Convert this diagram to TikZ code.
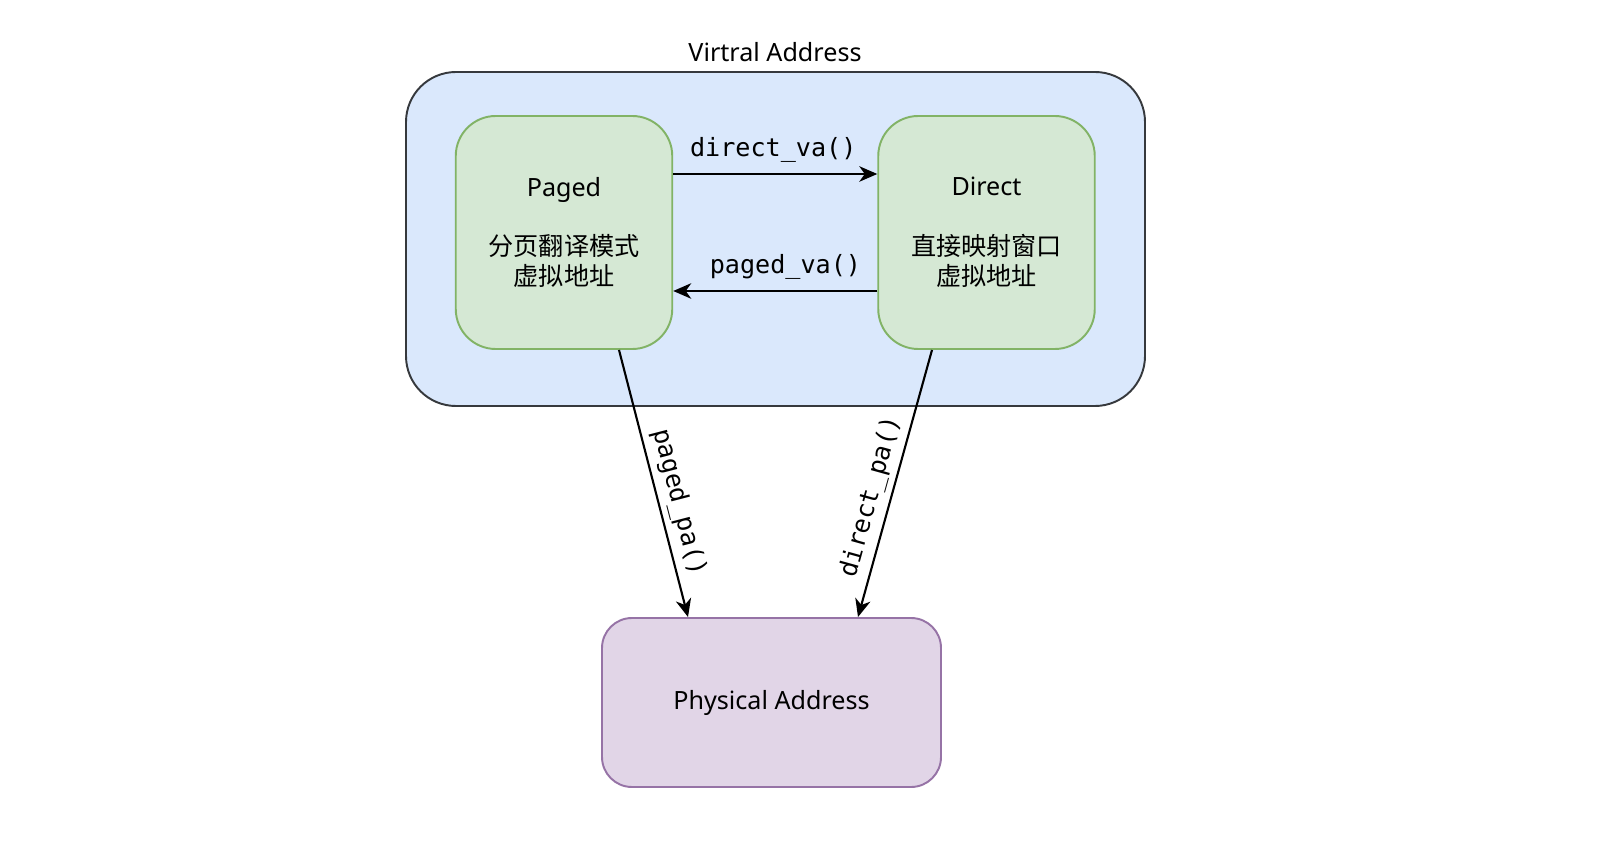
\documentclass[tikz,border=0pt]{standalone}
\usepackage{fontspec}
\setmainfont{Noto Sans}
\setmonofont{DejaVu Sans Mono}
\newfontfamily\cjk{Noto Sans CJK SC}
\usetikzlibrary{arrows.meta}
\definecolor{vafill}{HTML}{DAE8FC}
\definecolor{vaedge}{HTML}{36393D}
\definecolor{boxfill}{HTML}{D5E8D4}
\definecolor{boxedge}{HTML}{82B366}
\definecolor{pafill}{HTML}{E1D5E7}
\definecolor{paedge}{HTML}{9673A6}

\begin{document}
\begin{tikzpicture}[every node/.style={font=\fontsize{14.3}{17}\selectfont},
    box/.style={draw=boxedge, fill=boxfill, line width=1.1pt, rounded corners=.8cm,
      align=center, minimum width=4.33cm, minimum height=4.66cm},
    arrow/.style={-{Stealth[length=3.6mm, width=3.1mm, inset=1.1mm]}, line width=1.2pt}]
    \useasboundingbox (0, 0) rectangle (32.22, 16.88);
    \node [draw=vaedge, fill=vafill, line width=1.1pt, rounded corners=1cm,
      minimum width=14.78cm, minimum height=6.68cm] (va) at (15.51, 12.10) {};
    \node (valabel) at (15.50, 15.84) {Virtral Address};
    \node [box] (paged) at (11.28, 12.23) {Paged\\ \\{\cjk 分页翻译模式}\\{\cjk 虚拟地址}};
    \node [box] (direct) at (19.73, 12.23) {Direct\\ \\{\cjk 直接映射窗口}\\{\cjk 虚拟地址}};
    \node [box, draw=paedge, fill=pafill, rounded corners=.6cm,
      minimum width=6.78cm, minimum height=3.38cm] (pa) at (15.43, 2.83) {Physical Address};
    \draw [arrow] ([yshift=1.17cm]paged.east) to node [above, pos=.49, yshift=1mm] {\texttt{direct\_va()}} ([yshift=1.17cm]direct.west);
    \draw [arrow] ([yshift=-1.17cm]direct.west) to node [above, pos=.45, yshift=1mm] {\texttt{paged\_va()}} ([yshift=-1.17cm]paged.east);
    \draw [arrow] ([xshift=1.1cm]paged.south) to node [sloped, above, pos=.59] {\texttt{paged\_pa()}} ([xshift=-1.67cm]pa.north);
    \draw [arrow] ([xshift=-1.09cm]direct.south) to node [sloped, above, pos=.57] {\texttt{direct\_pa()}} ([xshift=1.73cm]pa.north);
  \end{tikzpicture}
\end{document}
